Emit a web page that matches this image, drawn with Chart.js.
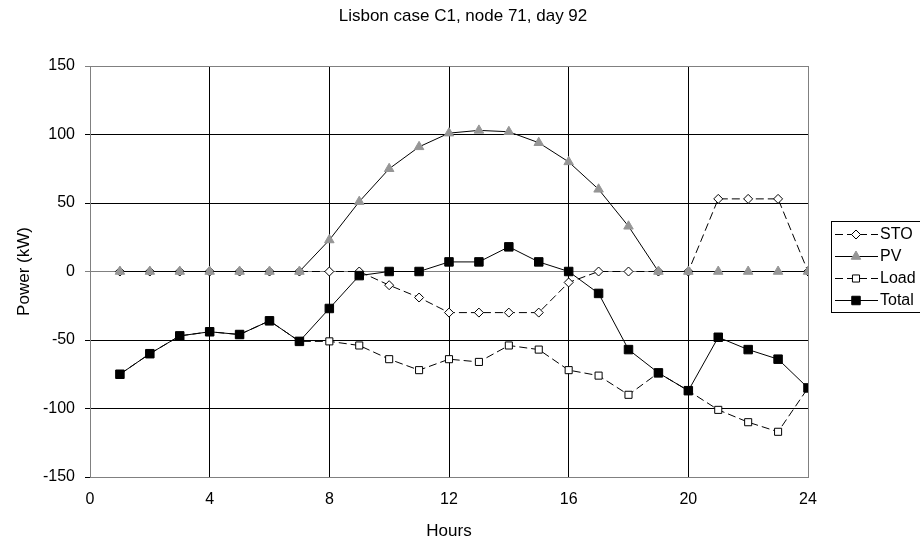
<!DOCTYPE html>
<html>
<head>
<meta charset="utf-8">
<script src="https://cdn.jsdelivr.net/npm/chart.js"></script>
<style>
  html, body { margin: 0; padding: 0; background: #fff; }
  canvas { display: block; }
</style>
</head>
<body>
<canvas id="graph" width="920" height="542"></canvas>
<script>
// chart data
const hours = [1, 2, 3, 4, 5, 6, 7, 8, 9, 10, 11, 12, 13, 14, 15, 16, 17, 18, 19, 20, 21, 22, 23, 24];
const sto   = [0, 0, 0, 0, 0, 0, 0, 0, 0, -10, -19, -30, -30, -30, -30, -8, 0, 0, 0, 0, 53, 53, 53, 0];
const pv    = [0, 0, 0, 0, 0, 0, 0, 23, 51, 75, 91, 101, 103, 102, 94, 80, 60, 33, 0, 0, 0, 0, 0, 0];
const load  = [-75, -60, -47, -44, -46, -36, -51, -51, -54, -64, -72, -64, -66, -54, -57, -72, -76, -90, -74, -87, -101, -110, -117, -85];
const total = [-75, -60, -47, -44, -46, -36, -51, -27, -3, 0, 0, 7, 7, 18, 7, 0, -16, -57, -74, -87, -48, -57, -64, -85];
const xTicks = [0, 4, 8, 12, 16, 20, 24];
const yTicks = [-150, -100, -50, 0, 50, 100, 150];

const chartTitle = 'Lisbon case C1, node 71, day 92';
const FONT = '"Liberation Sans", Arial, sans-serif';
const GRAY = '#808080';

Chart.defaults.font.family = FONT;
Chart.defaults.color = '#000';

// hours + values -> points
function toPoints(values) {
    return hours.map((h, i) => ({ x: h, y: values[i] }));
}

// title and legend drawn by hand (legend needs dash + marker samples)
const decorPlugin = {
    id: 'decor',
    afterDraw(chart) {
        const ctx = chart.ctx;
        ctx.save();
        ctx.fillStyle = '#000';
        ctx.font = '17px ' + FONT;
        ctx.textAlign = 'center';
        ctx.textBaseline = 'middle';
        ctx.fillText(chartTitle, 463, 16);

        // legend box
        ctx.strokeStyle = '#000';
        ctx.lineWidth = 1;
        ctx.strokeRect(831.5, 221.5, 110, 91);

        const rowY = [234, 256, 278, 300];
        chart.data.datasets.forEach((ds, i) => {
            const y = rowY[i];
            ctx.beginPath();
            ctx.setLineDash(ds.borderDash || []);
            ctx.strokeStyle = ds.borderColor;
            ctx.lineWidth = ds.borderWidth;
            ctx.moveTo(835, y + 0.5);
            ctx.lineTo(878, y + 0.5);
            ctx.stroke();
            ctx.setLineDash([]);

            // marker
            const mx = 856, my = y + 0.5, r = ds.pointRadius;
            ctx.beginPath();
            if (ds.pointStyle === 'rectRot') {
                ctx.moveTo(mx, my - r); ctx.lineTo(mx + r, my); ctx.lineTo(mx, my + r); ctx.lineTo(mx - r, my);
                ctx.closePath();
            } else if (ds.pointStyle === 'triangle') {
                ctx.moveTo(mx, my - r);
                ctx.lineTo(mx + r * 0.866, my + r * 0.5);
                ctx.lineTo(mx - r * 0.866, my + r * 0.5);
                ctx.closePath();
            } else {
                const s = r * Math.SQRT1_2;
                ctx.rect(mx - s, my - s, s * 2, s * 2);
            }
            ctx.fillStyle = ds.pointBackgroundColor;
            ctx.fill();
            ctx.strokeStyle = ds.pointBorderColor;
            ctx.lineWidth = ds.pointBorderWidth;
            ctx.stroke();

            ctx.fillStyle = '#000';
            ctx.font = '16px ' + FONT;
            ctx.textAlign = 'left';
            ctx.textBaseline = 'middle';
            ctx.fillText(ds.label, 880, y + 1);
        });
        ctx.restore();
    }
};

const ctx = document.getElementById('graph');
new Chart(ctx, {
    type: 'line',
    data: {
        datasets: [
            {
                label: 'STO', data: toPoints(sto), order: 4,
                borderColor: '#000', borderWidth: 1, borderDash: [8, 4],
                pointStyle: 'rectRot', pointRadius: 4.5,
                pointBackgroundColor: '#fff', pointBorderColor: '#000', pointBorderWidth: 1
            },
            {
                label: 'PV', data: toPoints(pv), order: 3,
                borderColor: '#000', borderWidth: 1,
                pointStyle: 'triangle', pointRadius: 5.5,
                pointBackgroundColor: '#969696', pointBorderColor: '#969696', pointBorderWidth: 1
            },
            {
                label: 'Load', data: toPoints(load), order: 2,
                borderColor: '#000', borderWidth: 1, borderDash: [8, 4],
                pointStyle: 'rect', pointRadius: 5,
                pointBackgroundColor: '#fff', pointBorderColor: '#000', pointBorderWidth: 1
            },
            {
                label: 'Total', data: toPoints(total), order: 1,
                borderColor: '#000', borderWidth: 1,
                pointStyle: 'rect', pointRadius: 6,
                pointBackgroundColor: '#000', pointBorderColor: '#000', pointBorderWidth: 1
            }
        ]
    },
    options: {
        responsive: false,
        animation: false,
        devicePixelRatio: 1,
        layout: { padding: { top: 66, right: 112, bottom: 0, left: 0 } },
        plugins: {
            legend: { display: false },
            title: { display: false },
            tooltip: { enabled: false }
        },
        elements: { line: { tension: 0 } },
        scales: {
            x: {
                type: 'linear', min: 0, max: 24,
                afterBuildTicks: (scale) => { scale.ticks = xTicks.map(v => ({ value: v })); },
                afterFit: (scale) => { scale.height = 65; },
                ticks: { font: { size: 16 }, padding: 13, color: '#000' },
                grid: {
                    drawTicks: false,
                    color: (c) => (c.tick && (c.tick.value === 0 || c.tick.value === 24)) ? GRAY : '#000'
                },
                border: { display: true, color: GRAY, width: 1 },
                title: { display: true, text: 'Hours', font: { size: 17 }, padding: { top: 0, bottom: 0 } }
            },
            y: {
                min: -150, max: 150,
                afterBuildTicks: (scale) => { scale.ticks = yTicks.map(v => ({ value: v })); },
                afterFit: (scale) => { scale.width = 90; },
                ticks: { font: { size: 16 }, padding: 10, color: '#000' },
                grid: {
                    tickLength: 5,
                    color: (c) => (c.tick && (c.tick.value === 0 || c.tick.value === 150)) ? GRAY : '#000'
                },
                border: { display: true, color: GRAY, width: 1 },
                title: { display: true, text: 'Power (kW)', font: { size: 17 }, padding: { top: 14, bottom: 0 } }
            }
        }
    },
    plugins: [decorPlugin]
});
</script>
</body>
</html>
